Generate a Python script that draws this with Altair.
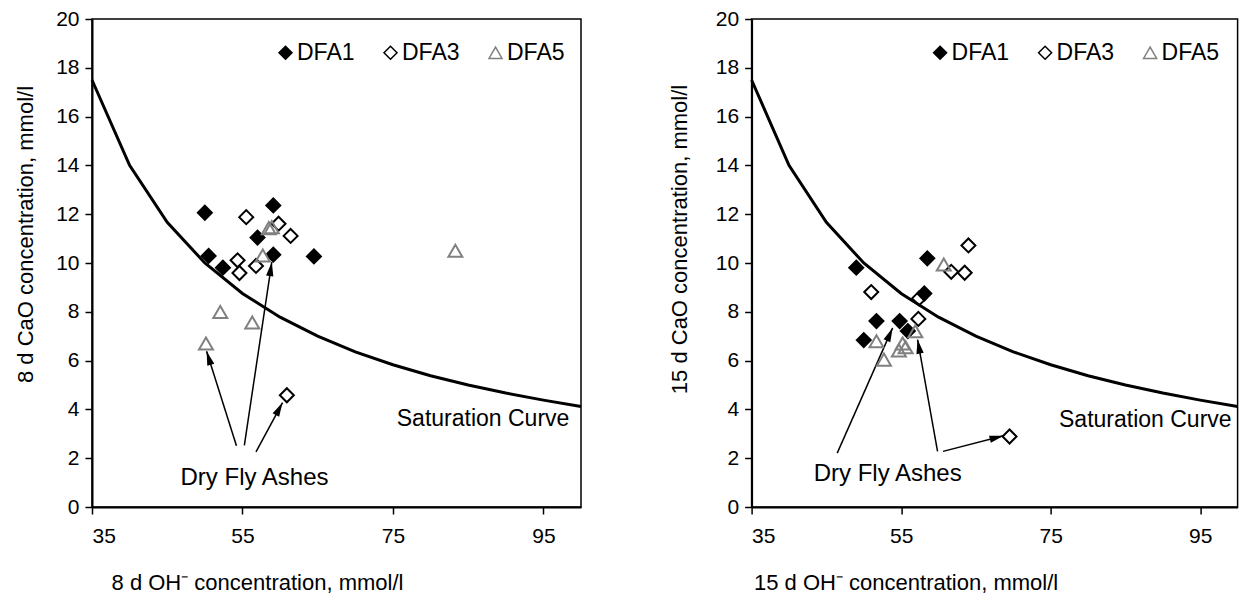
import math
import altair as alt
import pandas as pd

FONT = "Liberation Sans, Arial, sans-serif"
SERIES = ["DFA1", "DFA3", "DFA5"]
X_TICKS = [35, 55, 75, 95]
Y_TICKS = [0, 2, 4, 6, 8, 10, 12, 14, 16, 18, 20]
X_DOMAIN = [35, 100]
Y_DOMAIN = [0, 20]

# Saturation curve
sat_oh = [35, 40, 45, 50, 55, 60, 65, 70, 75, 80, 85, 90, 95, 100]
sat_cao = [17.5, 14.0, 11.67, 10.0, 8.75, 7.78, 7.0, 6.36, 5.83, 5.38, 5.0, 4.67, 4.38, 4.12]

# 8 d
d8_dfa1_oh = [50.0, 59.1, 57.0, 50.5, 52.4, 59.1, 64.5]
d8_dfa1_cao = [12.06, 12.36, 11.04, 10.29, 9.81, 10.34, 10.27]
d8_dfa3_oh = [55.5, 59.8, 61.4, 54.35, 54.6, 56.8, 60.9]
d8_dfa3_cao = [11.88, 11.61, 11.11, 10.11, 9.59, 9.88, 4.58]
d8_dfa5_oh = [58.5, 58.9, 57.7, 52.05, 56.3, 50.15, 83.3]
d8_dfa5_cao = [11.43, 11.47, 10.31, 7.99, 7.56, 6.70, 10.50]

# 15 d
d15_dfa1_oh = [49.0, 58.5, 58.1, 51.7, 54.8, 55.9, 50.0]
d15_dfa1_cao = [9.81, 10.19, 8.75, 7.62, 7.62, 7.21, 6.84]
d15_dfa3_oh = [64.0, 61.7, 63.5, 51.0, 57.3, 57.4, 69.5]
d15_dfa3_cao = [10.72, 9.64, 9.60, 8.81, 7.71, 8.55, 2.89]
d15_dfa5_oh = [60.7, 51.7, 56.9, 52.7, 54.7, 55.6, 55.2]
d15_dfa5_cao = [9.94, 6.79, 7.20, 6.04, 6.42, 6.55, 6.70]

# Annotation arrows (data coordinates)
d8_arrow_x = [54.2, 55.25, 56.8]
d8_arrow_y = [2.51, 2.53, 2.26]
d8_arrow_x2 = [50.23, 58.9, 60.33]
d8_arrow_y2 = [6.38, 10.04, 4.28]
d15_arrow_x = [46.45, 59.87, 60.6]
d15_arrow_y = [2.21, 2.28, 2.28]
d15_arrow_x2 = [53.86, 57.2, 68.7]
d15_arrow_y2 = [7.34, 6.86, 2.92]

dfa_text = ["Dry Fly Ashes"]
d8_dfa_x, d8_dfa_y = [56.6], [1.2]
d15_dfa_x, d15_dfa_y = [53.2], [1.35]
sat_text = ["Saturation Curve"]
d8_sat_x, d8_sat_y = [98.45], [3.62]
d15_sat_x, d15_sat_y = [99.2], [3.55]

W1, W2, H = 489, 486, 488


def points_df(o1, c1, o3, c3, o5, c5):
    rows = []
    for s, oh, ca in [("DFA1", o1, c1), ("DFA3", o3, c3), ("DFA5", o5, c5)]:
        for a, b in zip(oh, ca):
            rows.append({"oh": a, "cao": b, "series": s})
    return pd.DataFrame(rows)


def panel(width, pts, ax, ay, ax2, ay2, dx, dy, sx, sy, xtitle, ytitle, xtitle_x, ytitle_x, ytitle_y, legend_x):
    xs = alt.Scale(domain=X_DOMAIN, nice=False, zero=False)
    ys = alt.Scale(domain=Y_DOMAIN, nice=False, zero=False)
    xaxis = alt.Axis(values=X_TICKS, title=xtitle, titleX=xtitle_x, titleY=75,
                     titleAlign="center", titleBaseline="middle", labelPadding=11)
    yaxis = alt.Axis(values=Y_TICKS, title=ytitle, titleX=ytitle_x, titleY=ytitle_y,
                     titleAngle=270, titleAlign="center", titleBaseline="middle", labelPadding=6)

    curve = alt.Chart(pd.DataFrame({"oh": sat_oh, "cao": sat_cao})).mark_line(
        color="black", strokeWidth=3
    ).encode(x=alt.X("oh:Q", scale=xs, axis=xaxis), y=alt.Y("cao:Q", scale=ys, axis=yaxis))

    leg = alt.Legend(orient="none", legendX=legend_x, legendY=22, direction="horizontal",
                     title=None, labelFontSize=23, labelFont=FONT, labelColor="black",
                     symbolSize=170, symbolStrokeWidth=1.5, columnPadding=24,
                     labelOffset=0, padding=0, symbolOpacity=1)
    points = alt.Chart(pts).mark_point(filled=False, size=195, strokeWidth=2, opacity=1).encode(
        x=alt.X("oh:Q", scale=xs),
        y=alt.Y("cao:Q", scale=ys),
        color=alt.Color("series:N", scale=alt.Scale(domain=SERIES, range=["black", "black", "#808080"]), legend=leg),
        fill=alt.Fill("series:N", scale=alt.Scale(domain=SERIES, range=["black", "transparent", "transparent"]), legend=leg),
        shape=alt.Shape("series:N", scale=alt.Scale(domain=SERIES, range=["diamond", "diamond", "triangle-up"]), legend=leg),
    )

    kx = width / (X_DOMAIN[1] - X_DOMAIN[0])
    ky = H / (Y_DOMAIN[1] - Y_DOMAIN[0])
    angles = []
    for a, b, c, d in zip(ax, ay, ax2, ay2):
        dxp = (c - a) * kx
        dyp = -(d - b) * ky
        angles.append(math.degrees(math.atan2(dxp, -dyp)) % 360)
    adf = pd.DataFrame({"x": ax, "y": ay, "x2": ax2, "y2": ay2, "angle": angles})
    rules = alt.Chart(adf).mark_rule(color="black", strokeWidth=1.5).encode(
        x=alt.X("x:Q", scale=xs), y=alt.Y("y:Q", scale=ys), x2="x2:Q", y2="y2:Q")
    heads = alt.Chart(adf).mark_point(
        shape="M0,0L-0.55,2.1L0.55,2.1Z", filled=True, color="black", size=180, opacity=1
    ).encode(x=alt.X("x2:Q", scale=xs), y=alt.Y("y2:Q", scale=ys), angle=alt.Angle("angle:Q", scale=None))

    t1 = alt.Chart(pd.DataFrame({"x": dx, "y": dy, "t": dfa_text})).mark_text(
        font=FONT, fontSize=24, color="black", align="center", baseline="middle"
    ).encode(x=alt.X("x:Q", scale=xs), y=alt.Y("y:Q", scale=ys), text="t:N")
    t2 = alt.Chart(pd.DataFrame({"x": sx, "y": sy, "t": sat_text})).mark_text(
        font=FONT, fontSize=23, color="black", align="right", baseline="middle"
    ).encode(x=alt.X("x:Q", scale=xs), y=alt.Y("y:Q", scale=ys), text="t:N")

    return alt.layer(curve, rules, heads, points, t1, t2).properties(width=width, height=H)


left = panel(W1, points_df(d8_dfa1_oh, d8_dfa1_cao, d8_dfa3_oh, d8_dfa3_cao, d8_dfa5_oh, d8_dfa5_cao),
             d8_arrow_x, d8_arrow_y, d8_arrow_x2, d8_arrow_y2, d8_dfa_x, d8_dfa_y, d8_sat_x, d8_sat_y,
             "8 d OH\u207b concentration, mmol/l", "8 d CaO concentration, mmol/l",
             165, -67, 215, 182)
right = panel(W2, points_df(d15_dfa1_oh, d15_dfa1_cao, d15_dfa3_oh, d15_dfa3_cao, d15_dfa5_oh, d15_dfa5_cao),
              d15_arrow_x, d15_arrow_y, d15_arrow_x2, d15_arrow_y2, d15_dfa_x, d15_dfa_y, d15_sat_x, d15_sat_y,
              "15 d OH\u207b concentration, mmol/l", "15 d CaO concentration, mmol/l",
              154, -72, 220, 177)

chart = alt.hconcat(left, right, spacing=170.6, bounds="flush").resolve_scale(
    color="independent", fill="independent", shape="independent"
).properties(
    background="white",
    padding={"left": 13, "top": 7, "right": -6, "bottom": 2},
).configure_view(
    stroke="black", strokeWidth=1.5
).configure_axis(
    grid=False, domainColor="black", domainWidth=2, tickColor="black", tickWidth=1.5, tickSize=7,
    labelFont=FONT, labelFontSize=21, labelColor="black",
    titleFont=FONT, titleFontSize=22, titleFontWeight="normal", titleColor="black",
)

chart.save("out.html", embed_options={"renderer": "svg", "actions": False})
